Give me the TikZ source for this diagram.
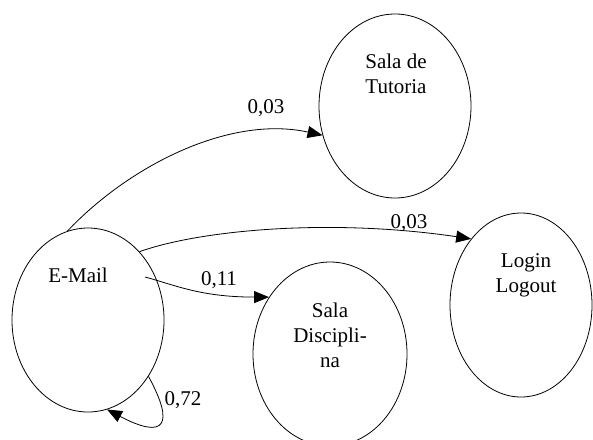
\documentclass[tikz,border=0pt]{standalone}
\usepackage{fontspec}
\setmainfont{Liberation Serif}
\usetikzlibrary{shapes.geometric,arrows.meta,calc}
\begin{document}
\begin{tikzpicture}[x=1pt,y=-1pt,
  state/.style={draw,ellipse,line width=0.8pt,inner sep=0pt,minimum height=184pt},
  lbl/.style={font=\fontsize{21}{25}\selectfont,inner sep=0pt,align=center,anchor=north},
  edgelbl/.style={font=\fontsize{21}{25}\selectfont,inner sep=0pt,anchor=base},
  conn/.style={line width=0.8pt,-{Triangle[length=15pt,width=12pt]}}]
\useasboundingbox (0,0) rectangle (593,439);
\clip (0,0) rectangle (593,439);
% states
\node[state,minimum width=152pt] (em) at (88,320) {};
\node[state,minimum width=152pt] (tut) at (395,106) {};
\node[state,minimum width=142pt] (log) at (521,305) {};
\node[state,minimum width=154pt] (disc) at (330,354) {};
% state texts
\node[edgelbl] (emt) at (78,282) {E-Mail};
\node[lbl] (tutt) at (396,53.5) {Sala de\\Tutoria};
\node[lbl] (logt) at (526,253.5) {Login\\Logout};
\node[lbl] (disct) at (330,302.5) {Sala\\Discipli-\\na};
% connectors
\draw[conn] (em.103) .. controls (130,165) and (230,115) .. (tut.202);
\draw[conn] (em.53) .. controls (200,230) and (330,218) .. (log.127);
\draw[conn] ($(em.center)+(57,-43)$) .. controls (175,285) and (200,297) .. (disc.137);
\draw[conn] (em.317) .. controls (175,425) and (165,440) .. (em.282);
% edge labels
\node[edgelbl] (l1) at (266,113) {0,03};
\node[edgelbl] (l2) at (409,228) {0,03};
\node[edgelbl] (l3) at (219,285) {0,11};
\node[edgelbl] (l4) at (183,405) {0,72};
\end{tikzpicture}
\end{document}
